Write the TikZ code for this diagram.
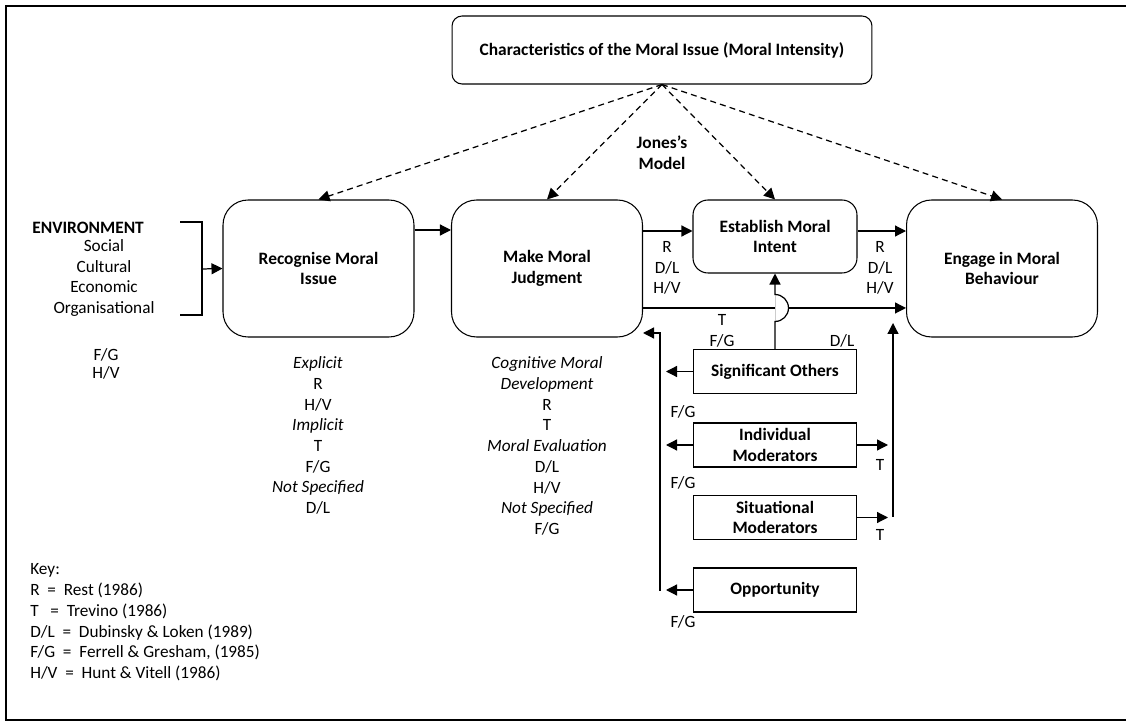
\documentclass[tikz,border=0pt]{standalone}
\usepackage{fontspec}
\setmainfont{Carlito}
\usetikzlibrary{arrows.meta,positioning,calc}
\tikzset{
    % Base box style
    basebox/.style={
        draw=black,
        fill=white,
        line width=0.6pt,
        align=center,
        inner sep=2pt,
        font=\fontsize{9.9}{11.8}\selectfont\bfseries
    },
    % Stage of the decision process
    stagenode/.style={
        basebox,
        rounded corners=0.5cm,
        minimum width=3.82cm,
        minimum height=2.74cm
    },
    % Intent box
    intentnode/.style={
        basebox,
        rounded corners=0.3cm,
        minimum width=3.28cm,
        minimum height=1.46cm
    },
    % Moral intensity box
    issuenode/.style={
        basebox,
        rounded corners=0.2cm,
        minimum width=8.4cm,
        minimum height=1.36cm
    },
    % Moderator box
    modnode/.style={
        basebox,
        minimum width=3.25cm,
        minimum height=0.88cm
    },
    % Plain text
    textnode/.style={
        align=center,
        inner sep=0pt,
        font=\fontsize{9.8}{11.8}\selectfont
    },
    boldtext/.style={
        textnode,
        font=\fontsize{9.9}{11.8}\selectfont\bfseries
    },
    keynode/.style={
        textnode,
        align=left
    },
    % Arrow styles
    myarrow/.style={
        -{Triangle[length=2.2mm,width=2.2mm]},
        line width=0.7pt
    },
    dasharrow/.style={
        myarrow,
        dash pattern=on 3.4pt off 2.4pt
    },
    busline/.style={
        line width=1.1pt
    }
}

\begin{document}
\begin{tikzpicture}[x=0.02cm, y=-0.02cm]
    \useasboundingbox (0,0) rectangle (1126,722);
    \draw[line width=1.1pt] (1126,6) -- (6,6) -- (6,720) -- (1126,720);

    \node[issuenode] (issue) at (662,50) {Characteristics of the Moral Issue (Moral Intensity)};
    \node[stagenode] (recog) at (318.5,268.5) {Recognise Moral\\Issue};
    \node[stagenode] (judge) at (547,268.5) {Make Moral\\Judgment};
    \node[intentnode] (intent) at (775,236.5) {Establish Moral\\Intent};
    \node[stagenode] (behav) at (1002,268.5) {Engage in Moral\\Behaviour};
    \node[modnode] (others) at (775,371.5) {Significant Others};
    \node[modnode] (indiv) at (775,445) {Individual\\Moderators};
    \node[modnode] (situ) at (775,517.5) {Situational\\Moderators};
    \node[modnode] (oppo) at (775,590) {Opportunity};

    % Jones's model
    \draw[dasharrow] (issue.south) -- (recog.north);
    \draw[dasharrow] (issue.south) -- (judge.north);
    \draw[dasharrow] (issue.south) -- (intent.north);
    \draw[dasharrow] (issue.south) -- (behav.north);
    \node[boldtext] (jones) at (662,153) {Jones’s\\Model};

    % environment
    \node[boldtext, anchor=west] (env) at (32,228) {ENVIRONMENT};
    \node[textnode] (envlist) at (104,278) {Social\\Cultural\\Economic\\Organisational};
    \node[textnode, font=\fontsize{9.8}{10.2}\selectfont] (envref) at (106,364) {F/G\\H/V};
    \coordinate (envout) at (202,269);
    \draw[line width=0.7pt] (180,222) -- (202,222) -- (202,315) -- (180,315);
    \draw[myarrow] (envout) -- (recog.west);

    % main sequence
    \draw[myarrow] ([yshift=0.77cm]recog.east) -- ([yshift=0.77cm]judge.west);
    \draw[myarrow] ([yshift=0.75cm]judge.east) -- ([yshift=0.75cm]judge.east -| intent.west);
    \draw[myarrow] ([yshift=0.75cm]judge.east -| intent.east) -- ([yshift=0.75cm]behav.west);
    \draw[myarrow] ([yshift=-0.79cm]judge.east) -- ([yshift=-0.79cm]behav.west);
    \coordinate (hop) at ([yshift=-0.79cm]judge.east -| intent.south);
    \fill[white] ([yshift=-0.27cm]hop) arc[start angle=-90, end angle=90, radius=0.27cm] -- cycle;
    \draw[gray!40, line width=0.3pt] ([yshift=-0.27cm]hop) -- ([yshift=0.27cm]hop);
    \draw[myarrow] (others.north) -- ([yshift=-0.27cm]hop)
        arc[start angle=-90, end angle=90, radius=0.27cm] -- (intent.south);

    \node[textnode] (jilbl) at (667,268) {R\\D/L\\H/V};
    \node[textnode] (iblbl) at (880,268) {R\\D/L\\H/V};
    \node[textnode] (tfglbl) at (722,331) {T\\F/G};
    \node[textnode] (dllbl) at (842,341) {D/L};

    % moderators into judgment
    \coordinate (leftbot) at (660,591);
    \coordinate (lefttop) at (660,333);
    \coordinate (judgein) at (643,333);
    \draw[busline, myarrow] (leftbot) -- (lefttop) -- (judgein);
    \draw[myarrow] (others.west) -- ([xshift=0.12cm]others.west -| leftbot);
    \draw[myarrow] (indiv.west) -- ([xshift=0.12cm]indiv.west -| leftbot);
    \draw[myarrow] (oppo.west) -- ([xshift=0.12cm]oppo.west -| leftbot);

    % moderators into behaviour
    \coordinate (rightbot) at (893,517);
    \coordinate (behavin) at (893,323);
    \draw[busline, myarrow] (rightbot) -- (behavin);
    \draw[myarrow] (indiv.east) -- ([xshift=-0.1cm]indiv.east -| rightbot);
    \draw[myarrow] (situ.east) -- ([xshift=-0.1cm]situ.east -| rightbot);

    \node[textnode] (fg1) at (683,412) {F/G};
    \node[textnode] (fg2) at (683,483) {F/G};
    \node[textnode] (fg3) at (683,622) {F/G};
    \node[textnode] (t1) at (880,465) {T};
    \node[textnode] (t2) at (880,535) {T};

    % stage references
    \node[textnode] (recoglist) at (318,435.5) {\textit{Explicit}\\R\\H/V\\\textit{Implicit}\\T\\F/G\\\textit{Not Specified}\\D/L};
    \node[textnode] (judgelist) at (547,446) {\textit{Cognitive Moral}\\\textit{Development}\\R\\T\\\textit{Moral Evaluation}\\D/L\\H/V\\\textit{Not Specified}\\F/G};

    % key
    \node[keynode, anchor=west] (key) at (30,622.5) {Key:\\R~~=~~Rest (1986)\\T~~~=~~Trevino (1986)\\D/L~~=~~Dubinsky \& Loken (1989)\\F/G~~=~~Ferrell \& Gresham, (1985)\\H/V~~=~~Hunt \& Vitell (1986)};
\end{tikzpicture}
\end{document}
